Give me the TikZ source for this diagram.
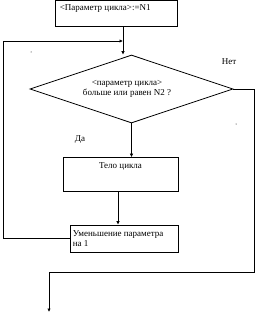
\documentclass[tikz,border=0pt]{standalone}
\usepackage{fontspec}
\setmainfont{Liberation Serif}
\usetikzlibrary{arrows.meta,shapes.geometric}
\begin{document}
\begin{tikzpicture}[x=1pt,y=-1pt,
  line width=0.8pt,
  box/.style={draw,rectangle,inner sep=0pt},
  txt/.style={inner sep=0pt,font=\fontsize{9}{10}\selectfont},
  arr/.style={-{Latex[length=3.5pt,width=3.5pt]}}]
\useasboundingbox (0,0) rectangle (267,313);
% boxes
\node[box,minimum width=122pt,minimum height=26pt] (init) at (116,13.5) {};
\node[txt,anchor=base west] (initt) at (59.5,11) {<Параметр цикла>:=N1};
\node[draw,diamond,inner sep=0pt,minimum width=203pt,minimum height=68pt] (cond) at (131.5,89) {};
\node[txt,align=center,anchor=center] (condt) at (127,88.5) {<параметр цикла>\\больше или равен N2 ?};
\node[box,minimum width=115pt,minimum height=34pt] (body) at (120.5,174.5) {};
\node[txt,anchor=base] (bodyt) at (120.5,168) {Тело цикла};
\node[box,minimum width=108pt,minimum height=27pt] (dec) at (124,238.5) {};
\node[txt,anchor=base west,align=left] (dect) at (72.5,236.5) {Уменьшение параметра};
\node[txt,anchor=base west] (dect2) at (72.5,246.5) {на 1};
% labels
\node[txt,anchor=base] (no) at (229,65) {Нет};
\node[txt,anchor=base] (yes) at (80,141.5) {Да};
% helper coordinates
\coordinate (j) at (123,41);
\coordinate (initb) at (123,26.5);
\coordinate (left) at (3,41);
\coordinate (rt) at (254,89);
\coordinate (bot) at (49,272);
\coordinate (end) at (49,312);
% connectors
\draw[arr] (initb) -- (initb |- cond.north);
\draw[arr] (dec.west) -| (left) -- (j);
\draw[arr] (cond.south) -- (cond.south |- body.north);
\draw[arr] (body.south -| 118,0) -- (118,0 |- dec.north);
\draw (cond.east) -- (rt) |- (bot);
\draw[arr] (bot) -- (end);
% stray dots
\fill (31,52) circle (0.5pt);
\fill (236,124) circle (0.5pt);
\end{tikzpicture}
\end{document}
